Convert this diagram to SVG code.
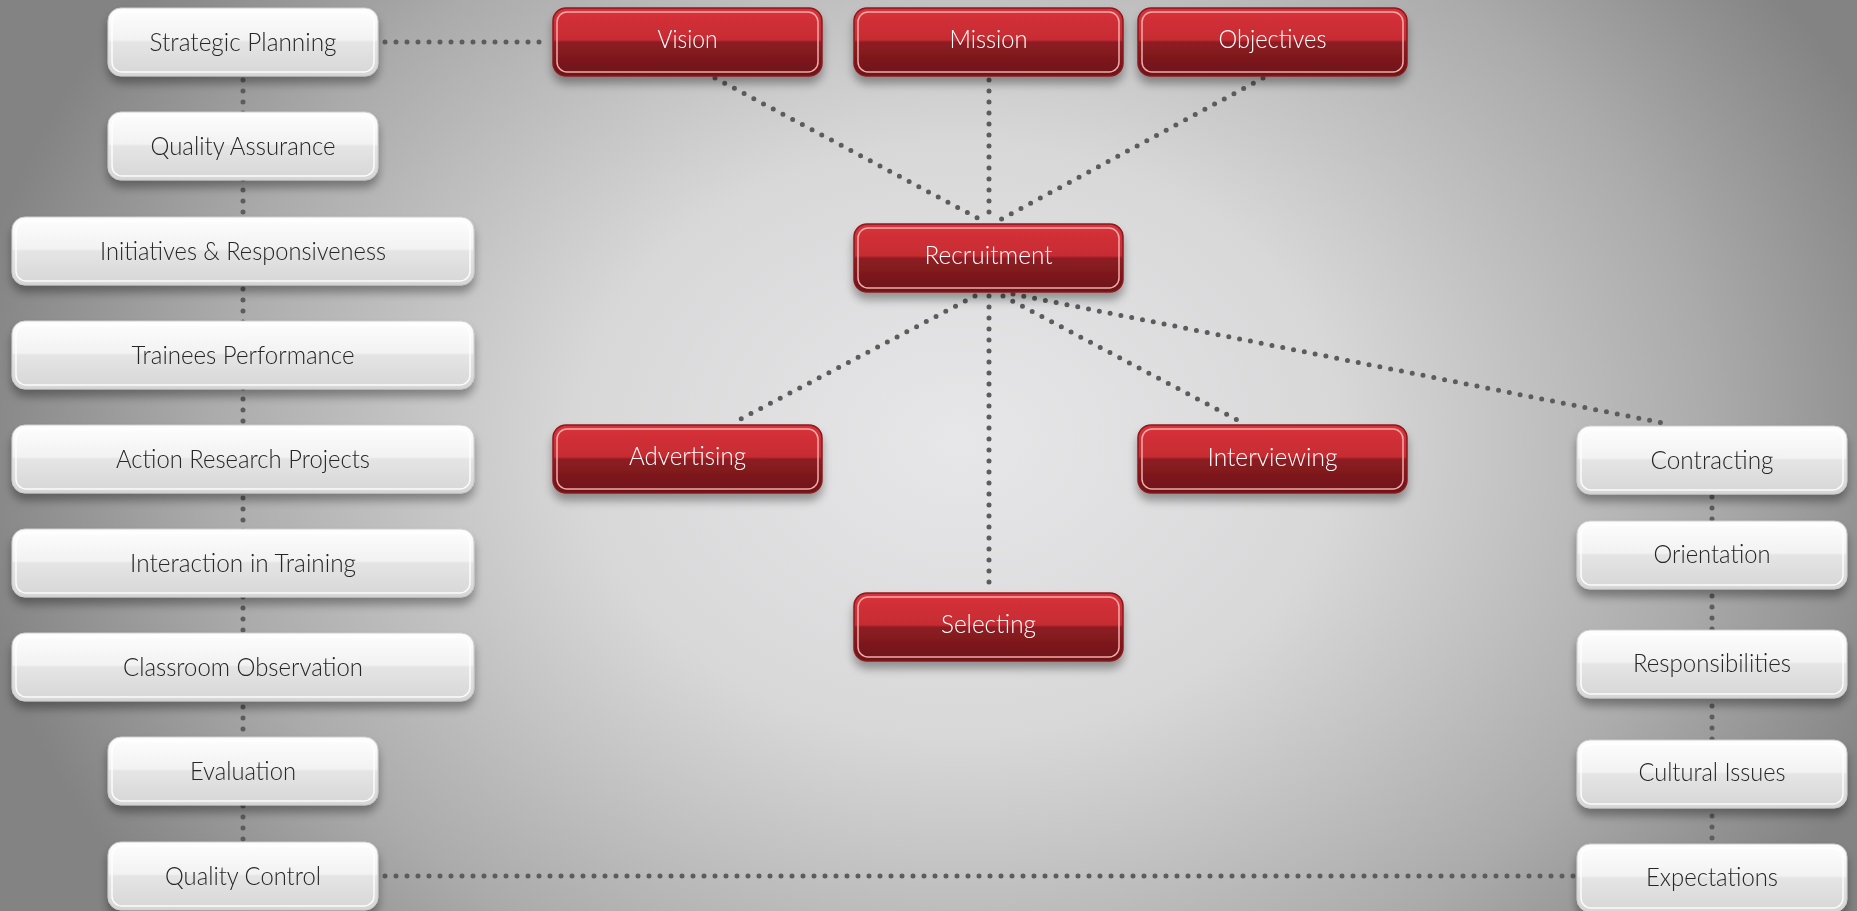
<svg xmlns="http://www.w3.org/2000/svg" width="1857" height="911" viewBox="0 0 1857 911">
<defs>
<radialGradient id="bg" gradientUnits="userSpaceOnUse" cx="960" cy="440" r="1000" gradientTransform="translate(960 440) scale(1 0.78) translate(-960 -440)">
<stop offset="0" stop-color="#e7e7e9"/>
<stop offset="0.38" stop-color="#d8d8d9"/>
<stop offset="0.75" stop-color="#ababab"/>
<stop offset="1" stop-color="#838383"/>
</radialGradient>
<linearGradient id="gw" x1="0" y1="0" x2="0" y2="1">
<stop offset="0" stop-color="#fefefe"/>
<stop offset="0.47" stop-color="#f2f2f2"/>
<stop offset="0.5" stop-color="#e5e5e5"/>
<stop offset="1" stop-color="#d6d6d6"/>
</linearGradient>
<linearGradient id="gr" x1="0" y1="0" x2="0" y2="1">
<stop offset="0" stop-color="#d8313a"/>
<stop offset="0.47" stop-color="#c62c32"/>
<stop offset="0.5" stop-color="#8e1d22"/>
<stop offset="1" stop-color="#6b1418"/>
</linearGradient>
<filter id="sh" x="-10%" y="-20%" width="120%" height="160%">
<feGaussianBlur in="SourceAlpha" stdDeviation="5"/>
<feOffset dy="7" result="b"/>
<feComponentTransfer><feFuncA type="linear" slope="0.35"/></feComponentTransfer>
<feMerge><feMergeNode/><feMergeNode in="SourceGraphic"/></feMerge>
</filter>
<style>
.w .o{fill:url(#gw);stroke:#cdcdcd;stroke-width:1}
.w .i{fill:none;stroke:#ffffff;stroke-width:1.5;opacity:0.9}
.w text{fill:#262626}
.r .o{fill:url(#gr);stroke:#8a1a1f;stroke-width:1.5}
.r .i{fill:none;stroke:#f4aaaa;stroke-width:1.5}
.r text{fill:#ffffff}
text{font-family:Lato,"Open Sans","Liberation Sans",sans-serif;font-weight:300;font-size:25px;text-anchor:middle}
.c path{fill:none;stroke:#5c5c5c;stroke-width:5;stroke-dasharray:0 11;stroke-linecap:round}
</style>
</defs>
<rect width="1857" height="911" fill="url(#bg)"/>
<g id="connectors" class="c">
<path d="M385,42 H550"/>
<path d="M243,80 V842"/>
<path d="M715,78 L985,222"/>
<path d="M989,80 V222"/>
<path d="M1263,78 L996,222"/>
<path d="M975,296 L733,423"/>
<path d="M989,296 V591"/>
<path d="M1003,296 L1243,423"/>
<path d="M1013,294 L1668,424"/>
<path d="M1712,497 V844"/>
<path d="M385,876 H1574"/>
</g>
<g id="n-strategic" class="w" filter="url(#sh)"><rect class="o" x="108" y="8" width="270" height="68" rx="13"/><rect class="i" x="112" y="12" width="262" height="60" rx="10"/><text x="243" y="51" textLength="187" lengthAdjust="spacingAndGlyphs">Strategic Planning</text></g>
<g id="n-qa" class="w" filter="url(#sh)"><rect class="o" x="108" y="112" width="270" height="68" rx="13"/><rect class="i" x="112" y="116" width="262" height="60" rx="10"/><text x="243" y="155" textLength="185" lengthAdjust="spacingAndGlyphs">Quality Assurance</text></g>
<g id="n-initiatives" class="w" filter="url(#sh)"><rect class="o" x="12" y="217" width="462" height="68" rx="13"/><rect class="i" x="16" y="221" width="454" height="60" rx="10"/><text x="243" y="260" textLength="286" lengthAdjust="spacingAndGlyphs">Initiatives &amp; Responsiveness</text></g>
<g id="n-trainees" class="w" filter="url(#sh)"><rect class="o" x="12" y="321" width="462" height="68" rx="13"/><rect class="i" x="16" y="325" width="454" height="60" rx="10"/><text x="243" y="364" textLength="223" lengthAdjust="spacingAndGlyphs">Trainees Performance</text></g>
<g id="n-action" class="w" filter="url(#sh)"><rect class="o" x="12" y="425" width="462" height="68" rx="13"/><rect class="i" x="16" y="429" width="454" height="60" rx="10"/><text x="243" y="468" textLength="254" lengthAdjust="spacingAndGlyphs">Action Research Projects</text></g>
<g id="n-interaction" class="w" filter="url(#sh)"><rect class="o" x="12" y="529" width="462" height="68" rx="13"/><rect class="i" x="16" y="533" width="454" height="60" rx="10"/><text x="243" y="572" textLength="226" lengthAdjust="spacingAndGlyphs">Interaction in Training</text></g>
<g id="n-classroom" class="w" filter="url(#sh)"><rect class="o" x="12" y="633" width="462" height="68" rx="13"/><rect class="i" x="16" y="637" width="454" height="60" rx="10"/><text x="243" y="676" textLength="240" lengthAdjust="spacingAndGlyphs">Classroom Observation</text></g>
<g id="n-evaluation" class="w" filter="url(#sh)"><rect class="o" x="108" y="737" width="270" height="68" rx="13"/><rect class="i" x="112" y="741" width="262" height="60" rx="10"/><text x="243" y="780" textLength="106" lengthAdjust="spacingAndGlyphs">Evaluation</text></g>
<g id="n-qc" class="w" filter="url(#sh)"><rect class="o" x="108" y="842" width="270" height="68" rx="13"/><rect class="i" x="112" y="846" width="262" height="60" rx="10"/><text x="243" y="885" textLength="156" lengthAdjust="spacingAndGlyphs">Quality Control</text></g>
<g id="n-vision" class="r" filter="url(#sh)"><rect class="o" x="553" y="8" width="269" height="68" rx="13"/><rect class="i" x="557" y="12" width="261" height="60" rx="10"/><text x="687.5" y="48" textLength="60" lengthAdjust="spacingAndGlyphs">Vision</text></g>
<g id="n-mission" class="r" filter="url(#sh)"><rect class="o" x="854" y="8" width="269" height="68" rx="13"/><rect class="i" x="858" y="12" width="261" height="60" rx="10"/><text x="988.5" y="48" textLength="78" lengthAdjust="spacingAndGlyphs">Mission</text></g>
<g id="n-objectives" class="r" filter="url(#sh)"><rect class="o" x="1138" y="8" width="269" height="68" rx="13"/><rect class="i" x="1142" y="12" width="261" height="60" rx="10"/><text x="1272.5" y="48" textLength="108" lengthAdjust="spacingAndGlyphs">Objectives</text></g>
<g id="n-recruitment" class="r" filter="url(#sh)"><rect class="o" x="854" y="224" width="269" height="68" rx="13"/><rect class="i" x="858" y="228" width="261" height="60" rx="10"/><text x="988.5" y="264" textLength="128" lengthAdjust="spacingAndGlyphs">Recruitment</text></g>
<g id="n-advertising" class="r" filter="url(#sh)"><rect class="o" x="553" y="425" width="269" height="68" rx="13"/><rect class="i" x="557" y="429" width="261" height="60" rx="10"/><text x="687.5" y="465" textLength="117" lengthAdjust="spacingAndGlyphs">Advertising</text></g>
<g id="n-interviewing" class="r" filter="url(#sh)"><rect class="o" x="1138" y="425" width="269" height="68" rx="13"/><rect class="i" x="1142" y="429" width="261" height="60" rx="10"/><text x="1272.5" y="466" textLength="130" lengthAdjust="spacingAndGlyphs">Interviewing</text></g>
<g id="n-selecting" class="r" filter="url(#sh)"><rect class="o" x="854" y="593" width="269" height="68" rx="13"/><rect class="i" x="858" y="597" width="261" height="60" rx="10"/><text x="988.5" y="633" textLength="95" lengthAdjust="spacingAndGlyphs">Selecting</text></g>
<g id="n-contracting" class="w" filter="url(#sh)"><rect class="o" x="1577" y="426" width="270" height="68" rx="13"/><rect class="i" x="1581" y="430" width="262" height="60" rx="10"/><text x="1712" y="469" textLength="123" lengthAdjust="spacingAndGlyphs">Contracting</text></g>
<g id="n-orientation" class="w" filter="url(#sh)"><rect class="o" x="1577" y="521" width="270" height="68" rx="13"/><rect class="i" x="1581" y="525" width="262" height="60" rx="10"/><text x="1712" y="563" textLength="117" lengthAdjust="spacingAndGlyphs">Orientation</text></g>
<g id="n-responsibilities" class="w" filter="url(#sh)"><rect class="o" x="1577" y="630" width="270" height="68" rx="13"/><rect class="i" x="1581" y="634" width="262" height="60" rx="10"/><text x="1712" y="672" textLength="158" lengthAdjust="spacingAndGlyphs">Responsibilities</text></g>
<g id="n-cultural" class="w" filter="url(#sh)"><rect class="o" x="1577" y="740" width="270" height="68" rx="13"/><rect class="i" x="1581" y="744" width="262" height="60" rx="10"/><text x="1712" y="781" textLength="147" lengthAdjust="spacingAndGlyphs">Cultural Issues</text></g>
<g id="n-expectations" class="w" filter="url(#sh)"><rect class="o" x="1577" y="844" width="270" height="68" rx="13"/><rect class="i" x="1581" y="848" width="262" height="60" rx="10"/><text x="1712" y="886" textLength="132" lengthAdjust="spacingAndGlyphs">Expectations</text></g>
</svg>
